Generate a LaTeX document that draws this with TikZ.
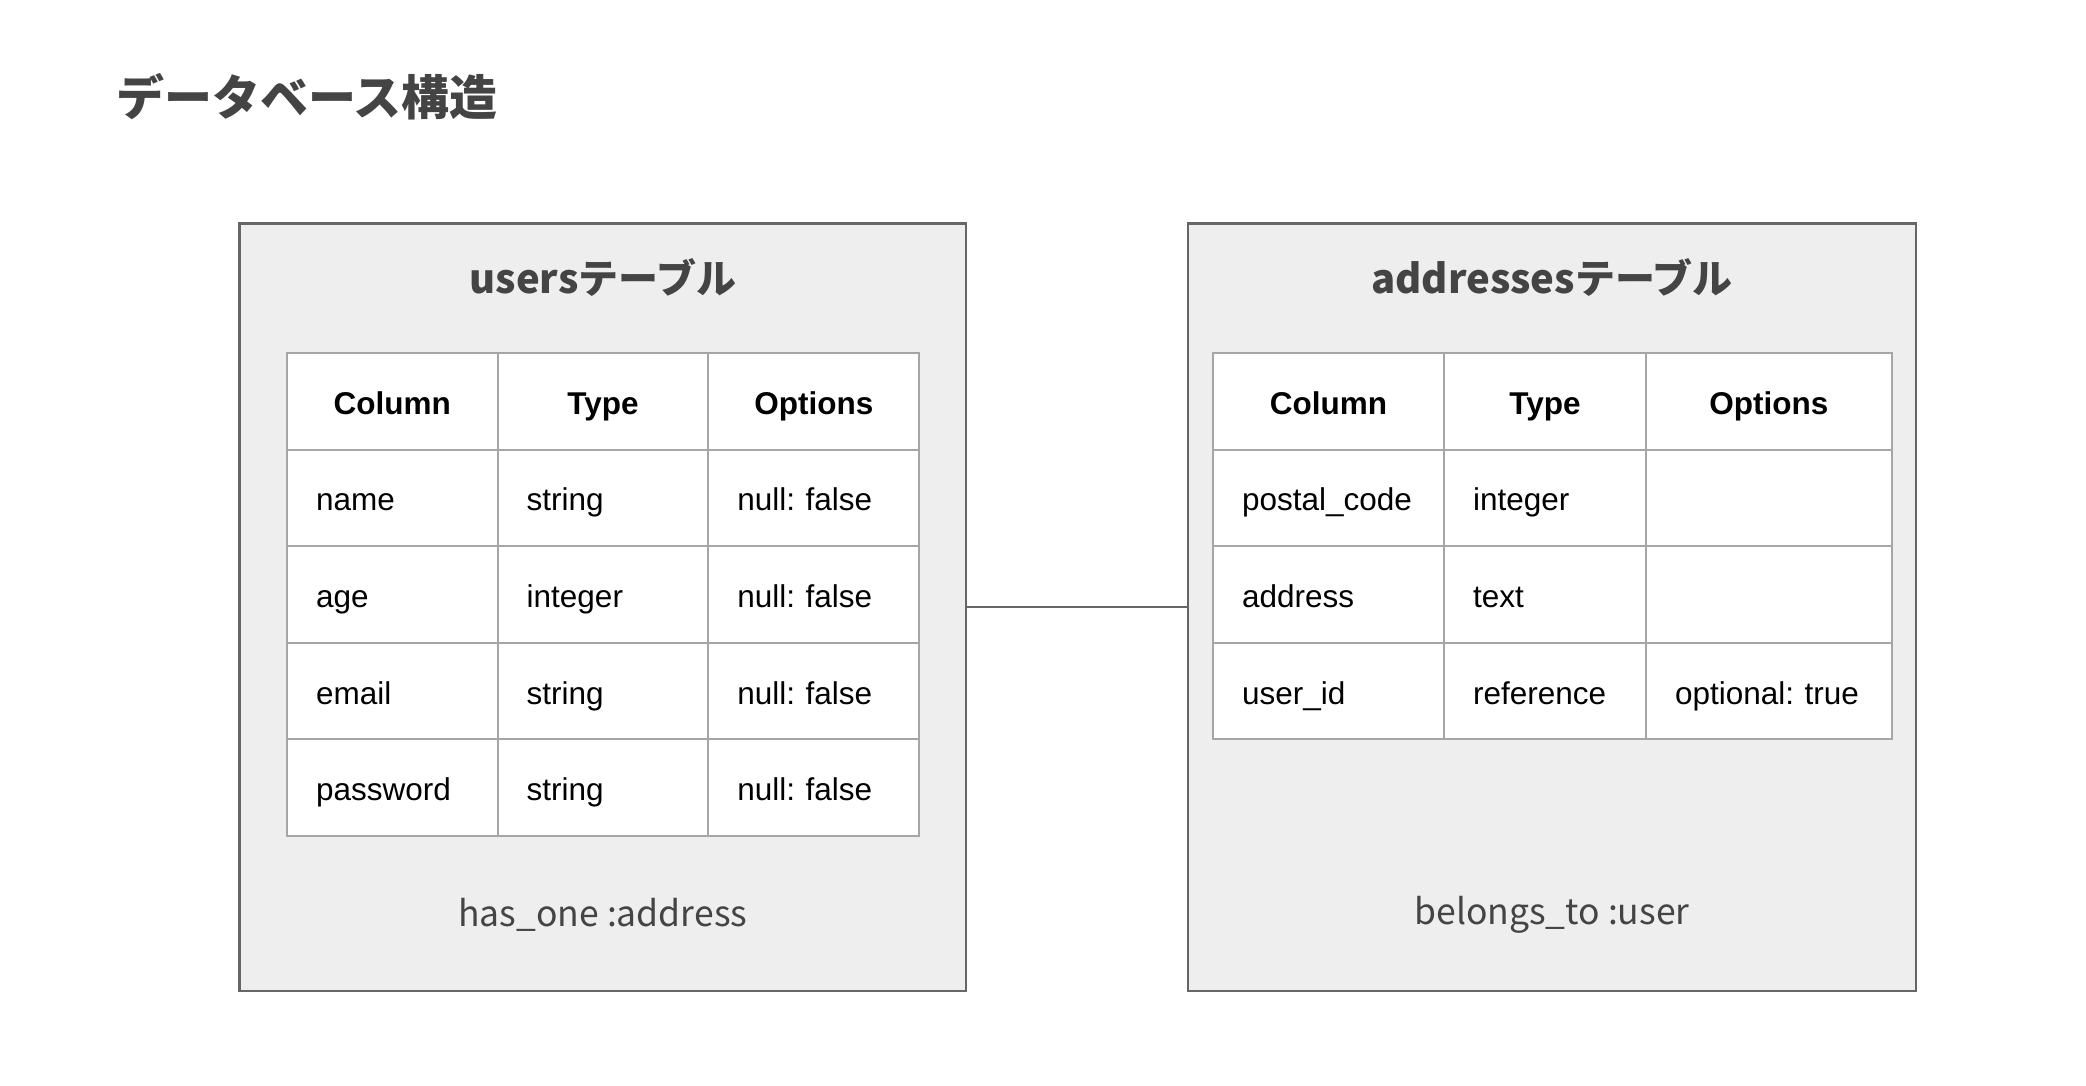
\documentclass[tikz,border=0pt]{standalone}
\usepackage{fontspec}
\setmainfont{Liberation Sans}
\newfontfamily\cjk{Noto Sans CJK JP}
\frenchspacing
\usetikzlibrary{positioning}

\definecolor{boxfill}{HTML}{EEEEEE}
\definecolor{boxline}{HTML}{666666}
\definecolor{gridline}{HTML}{A6A6A6}
\definecolor{inktext}{HTML}{444444}

\tikzset{
  pagetitle/.style={text=inktext, inner sep=0pt, font={\cjk\bfseries\fontsize{48}{54}\selectfont}},
  tablebox/.style={draw=boxline, fill=boxfill, line width=2.5pt, minimum height=767.5pt, inner sep=0pt},
  boxtitle/.style={text=inktext, inner sep=0pt, font={\cjk\bfseries\fontsize{40}{46}\selectfont}},
  footnote/.style={text=inktext, inner sep=0pt, font={\cjk\fontsize{35.5}{42}\selectfont}},
  cell/.style={draw=gridline, fill=white, line width=2pt, anchor=north west, outer sep=0pt,
    minimum height=96.6pt, inner xsep=29pt, inner ysep=0pt, align=left,
    text height=28pt, text depth=2pt,
    font={\fontsize{31.5}{36}\selectfont}},
  headcell/.style={cell, align=center, font={\bfseries\fontsize{31.5}{36}\selectfont}},
  link/.style={draw=boxline, line width=2pt}
}

\begin{document}
\begin{tikzpicture}[x=1pt, y=-1pt]
\useasboundingbox[fill=white] (0,0) rectangle (2086,1086);

% title
\node[pagetitle, anchor=west] (title) at (116,97) {データベース構造};

% outer boxes and the relation between them
\node[tablebox, minimum width=726.5pt] (users) at (602.75,607.25) {};
\node[tablebox, minimum width=728pt] (addresses) at (1552,607.25) {};
\draw[link] (users.east) -- (addresses.west);

\node[boxtitle] (users-title) at (602.75,278) {usersテーブル};
\node[boxtitle] (addresses-title) at (1552,278) {addressesテーブル};
\node[footnote] (users-note) at (602.75,915) {has\_one :address};
\node[footnote] (addresses-note) at (1552,915) {belongs\_to :user};

% users table
\foreach \head [count=\i from 0] in {Column,Type,Options}
  \node[headcell, text width=152.7pt] (u-0-\i) at (287+\i*210.7,353) {\head};
\foreach \name/\kind/\opts [count=\j] in {name/string/null: false, age/integer/null: false,
    email/string/null: false, password/string/null: false} {
  \node[cell, text width=152.7pt] (u-\j-0) at (287,353+\j*96.6) {\name};
  \node[cell, text width=152.7pt] (u-\j-1) at (497.7,353+\j*96.6) {\kind};
  \node[cell, text width=152.7pt] (u-\j-2) at (708.4,353+\j*96.6) {\mbox{\opts}};
}

% addresses table
\node[headcell, text width=173pt] (a-0-0) at (1213,353) {Column};
\node[headcell, text width=144pt] (a-0-1) at (1444,353) {Type};
\node[headcell, text width=187.5pt] (a-0-2) at (1646,353) {Options};
\foreach \name/\kind/\opts [count=\j] in {postal\_code/integer/{}, address/text/{},
    user\_id/reference/optional: true} {
  \node[cell, text width=173pt] (a-\j-0) at (1213,353+\j*96.6) {\name};
  \node[cell, text width=144pt] (a-\j-1) at (1444,353+\j*96.6) {\kind};
  \node[cell, text width=187.5pt] (a-\j-2) at (1646,353+\j*96.6) {\mbox{\opts}};
}
\end{tikzpicture}
\end{document}
